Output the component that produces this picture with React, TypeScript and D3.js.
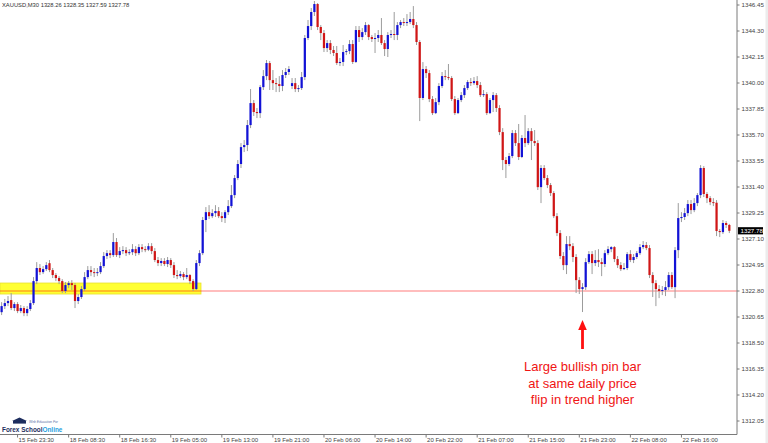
import React from 'react';
import { scaleBand, scaleLinear, range } from 'd3';

// XAUUSD M30 bars
const opens = [
  1321.05, 1321.55, 1321.80, 1322.05, 1321.39, 1321.72, 1321.14, 1321.39, 1320.97, 1321.31,
  1321.80, 1323.62, 1324.70, 1324.36, 1324.61, 1325.10, 1324.53, 1324.12, 1323.87, 1323.62,
  1322.80, 1323.29, 1323.45, 1323.29, 1321.97, 1322.30, 1322.96, 1323.95, 1324.53, 1324.36,
  1324.28, 1324.36, 1324.86, 1325.69, 1325.93, 1325.77, 1326.85, 1325.77, 1326.10, 1326.18,
  1325.93, 1326.01, 1326.26, 1325.93, 1326.43, 1326.26, 1326.22, 1326.51, 1326.10, 1325.36,
  1325.11, 1325.28, 1325.03, 1325.36, 1324.94, 1324.12, 1324.03, 1324.20, 1323.95, 1324.12,
  1323.62, 1322.96, 1325.11, 1325.93, 1328.67, 1329.32, 1328.99, 1329.24, 1329.41, 1328.99,
  1328.83, 1329.32, 1329.82, 1330.73, 1332.14, 1333.30, 1334.70, 1334.87, 1336.52, 1338.34,
  1337.60, 1337.51, 1339.66, 1340.57, 1341.65, 1340.24, 1339.99, 1339.91, 1339.75, 1340.66,
  1340.91, 1339.75, 1339.99, 1339.50, 1339.58, 1340.49, 1343.72, 1344.71, 1345.87, 1346.53,
  1344.63, 1344.13, 1342.89, 1343.30, 1342.73, 1342.48, 1341.65, 1341.74, 1342.56, 1342.64,
  1343.22, 1341.74, 1344.38, 1343.80, 1344.21, 1344.79, 1343.80, 1343.64, 1343.72, 1343.97,
  1343.30, 1342.81, 1343.97, 1344.05, 1343.97, 1344.79, 1345.04, 1344.96, 1345.04, 1345.29,
  1344.79, 1343.39, 1338.76, 1341.15, 1340.82, 1338.67, 1337.51, 1338.42, 1339.75, 1340.57,
  1340.49, 1340.41, 1338.67, 1337.51, 1338.59, 1339.00, 1339.58, 1340.08, 1339.99, 1340.16,
  1339.83, 1339.00, 1339.08, 1337.51, 1338.59, 1339.00, 1337.93, 1335.94, 1333.63, 1333.30,
  1333.96, 1335.86, 1335.03, 1333.88, 1335.45, 1335.03, 1336.02, 1335.20, 1335.03, 1331.39,
  1332.97, 1332.14, 1331.56, 1330.90, 1328.99, 1327.59, 1325.69, 1324.94, 1326.68, 1326.51,
  1325.61, 1323.70, 1322.96, 1323.12, 1325.19, 1325.85, 1325.11, 1325.36, 1325.19, 1325.03,
  1325.93, 1326.26, 1326.43, 1325.44, 1324.94, 1324.61, 1324.70, 1325.85, 1325.36, 1325.61,
  1325.93, 1326.43, 1326.60, 1326.35, 1324.12, 1323.45, 1322.96, 1322.80, 1322.88, 1323.12,
  1324.12, 1323.12, 1326.18, 1328.83, 1328.92, 1329.24, 1329.99, 1329.49, 1330.07, 1330.73,
  1332.97, 1330.82, 1330.48, 1330.15, 1330.10, 1327.76, 1327.67, 1328.42, 1328.26,
];
const highs = [
  1321.88, 1322.14, 1322.38, 1322.63, 1321.88, 1321.88, 1321.64, 1321.55, 1321.55, 1322.05,
  1323.95, 1325.19, 1325.03, 1324.86, 1325.19, 1325.36, 1324.70, 1324.28, 1324.03, 1323.78,
  1323.54, 1323.62, 1323.70, 1323.45, 1322.55, 1323.21, 1324.36, 1324.86, 1324.86, 1324.70,
  1324.70, 1325.19, 1326.02, 1326.18, 1326.18, 1327.59, 1327.18, 1326.43, 1326.51, 1326.43,
  1326.26, 1326.68, 1326.51, 1326.68, 1326.68, 1326.51, 1326.76, 1326.76, 1326.35, 1325.61,
  1325.52, 1325.52, 1325.61, 1325.52, 1325.19, 1324.53, 1324.45, 1324.36, 1324.70, 1324.20,
  1323.78, 1325.36, 1326.18, 1328.92, 1329.74, 1329.90, 1329.57, 1329.90, 1329.74, 1329.32,
  1329.49, 1330.32, 1331.56, 1332.39, 1333.63, 1335.03, 1335.28, 1336.94, 1339.50, 1338.59,
  1337.93, 1339.83, 1341.07, 1341.90, 1341.82, 1341.07, 1340.41, 1340.57, 1341.07, 1341.24,
  1341.40, 1340.41, 1340.41, 1339.83, 1340.91, 1343.97, 1345.21, 1346.20, 1346.78, 1346.61,
  1344.79, 1344.38, 1343.55, 1343.55, 1343.06, 1343.06, 1342.07, 1343.14, 1342.81, 1343.55,
  1343.55, 1344.71, 1344.71, 1344.54, 1345.04, 1344.87, 1343.97, 1344.13, 1344.38, 1345.37,
  1343.55, 1344.21, 1344.38, 1345.87, 1345.04, 1345.21, 1345.37, 1345.70, 1345.87, 1346.36,
  1345.04, 1343.55, 1341.73, 1341.40, 1341.07, 1338.92, 1338.76, 1339.99, 1340.91, 1341.07,
  1341.57, 1340.57, 1338.92, 1338.76, 1339.25, 1339.83, 1340.24, 1340.41, 1340.49, 1340.57,
  1340.08, 1339.42, 1339.25, 1338.76, 1339.25, 1339.17, 1338.17, 1336.27, 1333.88, 1334.21,
  1336.11, 1336.11, 1336.61, 1335.69, 1337.35, 1336.27, 1336.27, 1336.11, 1335.28, 1333.21,
  1333.21, 1332.39, 1331.73, 1331.06, 1329.24, 1327.84, 1326.02, 1327.34, 1327.34, 1326.76,
  1325.85, 1323.95, 1323.45, 1325.52, 1326.10, 1326.10, 1326.18, 1326.26, 1325.52, 1326.18,
  1326.51, 1326.51, 1326.51, 1325.69, 1325.19, 1325.11, 1326.02, 1326.18, 1325.85, 1326.10,
  1326.68, 1326.93, 1326.85, 1326.60, 1324.36, 1323.70, 1323.29, 1323.21, 1323.62, 1324.36,
  1324.36, 1326.43, 1330.07, 1329.32, 1329.66, 1330.32, 1330.32, 1330.48, 1330.90, 1333.21,
  1333.13, 1330.98, 1330.65, 1330.48, 1330.32, 1327.92, 1328.67, 1328.58, 1328.35,
];
const lows = [
  1320.81, 1321.31, 1321.55, 1321.22, 1321.14, 1320.97, 1320.97, 1320.72, 1320.72, 1321.14,
  1321.64, 1323.37, 1324.12, 1324.20, 1324.45, 1324.36, 1323.87, 1323.62, 1323.37, 1322.63,
  1322.63, 1323.04, 1322.88, 1321.39, 1321.72, 1322.14, 1322.80, 1323.78, 1324.03, 1323.95,
  1324.03, 1324.20, 1324.70, 1325.44, 1325.52, 1325.61, 1325.61, 1325.52, 1325.85, 1325.69,
  1325.77, 1325.77, 1325.69, 1325.77, 1326.01, 1326.01, 1326.10, 1325.85, 1325.19, 1324.86,
  1324.86, 1324.86, 1324.78, 1324.70, 1323.87, 1323.78, 1323.87, 1323.70, 1323.78, 1323.37,
  1322.80, 1322.88, 1324.86, 1325.77, 1327.67, 1328.75, 1328.83, 1328.92, 1328.83, 1328.50,
  1328.42, 1329.08, 1329.66, 1330.48, 1331.97, 1332.97, 1334.29, 1334.37, 1336.27, 1337.27,
  1337.10, 1337.10, 1339.42, 1340.24, 1339.42, 1339.42, 1339.25, 1339.25, 1339.33, 1340.41,
  1340.66, 1339.50, 1339.25, 1339.25, 1339.42, 1340.24, 1343.55, 1344.38, 1345.54, 1344.38,
  1343.55, 1342.56, 1342.56, 1342.39, 1342.23, 1341.49, 1341.40, 1341.40, 1342.31, 1342.39,
  1341.57, 1341.65, 1343.39, 1343.55, 1343.97, 1343.55, 1343.39, 1342.48, 1343.39, 1343.14,
  1342.23, 1342.15, 1343.72, 1343.55, 1343.55, 1344.54, 1344.71, 1344.71, 1344.87, 1344.54,
  1343.14, 1336.85, 1338.59, 1340.41, 1338.42, 1337.35, 1337.43, 1338.17, 1339.58, 1340.24,
  1340.24, 1338.51, 1337.35, 1337.43, 1338.42, 1338.76, 1339.42, 1339.75, 1339.83, 1339.58,
  1338.84, 1338.84, 1337.35, 1337.43, 1337.60, 1337.60, 1335.69, 1332.80, 1332.14, 1333.13,
  1333.79, 1334.79, 1333.63, 1333.79, 1334.70, 1334.87, 1333.63, 1334.79, 1331.15, 1330.07,
  1331.97, 1331.31, 1330.65, 1328.83, 1327.34, 1325.44, 1324.53, 1324.20, 1326.18, 1325.19,
  1322.63, 1322.55, 1321.06, 1322.88, 1325.03, 1324.20, 1324.86, 1324.78, 1324.03, 1324.78,
  1325.77, 1326.01, 1325.19, 1324.70, 1324.45, 1324.53, 1324.53, 1325.19, 1325.11, 1325.44,
  1325.77, 1326.26, 1326.18, 1323.87, 1322.30, 1321.55, 1322.21, 1322.46, 1322.38, 1322.88,
  1322.96, 1322.21, 1325.52, 1328.50, 1328.67, 1328.99, 1329.16, 1329.32, 1329.82, 1330.48,
  1330.57, 1330.07, 1329.90, 1329.82, 1327.34, 1327.26, 1327.51, 1328.01, 1327.59,
];
const closes = [
  1321.55, 1321.80, 1321.97, 1321.39, 1321.72, 1321.14, 1321.39, 1320.97, 1321.31, 1321.80,
  1323.62, 1324.70, 1324.36, 1324.61, 1324.94, 1324.53, 1324.12, 1323.87, 1323.62, 1322.80,
  1323.29, 1323.45, 1323.29, 1321.97, 1322.30, 1322.96, 1323.95, 1324.53, 1324.36, 1324.28,
  1324.36, 1324.86, 1325.69, 1325.93, 1325.77, 1326.85, 1325.77, 1326.10, 1326.18, 1325.93,
  1326.01, 1326.26, 1325.93, 1326.43, 1326.26, 1326.22, 1326.51, 1326.10, 1325.36, 1325.11,
  1325.28, 1325.03, 1325.36, 1324.94, 1324.12, 1324.03, 1324.20, 1323.95, 1324.12, 1323.62,
  1322.96, 1325.11, 1325.93, 1328.67, 1329.32, 1328.99, 1329.24, 1329.41, 1328.99, 1328.83,
  1329.32, 1329.82, 1330.73, 1332.14, 1333.30, 1334.70, 1334.87, 1336.52, 1338.34, 1337.60,
  1337.51, 1339.66, 1340.57, 1341.65, 1340.24, 1339.99, 1339.91, 1339.75, 1340.66, 1340.91,
  1341.15, 1339.99, 1339.50, 1339.58, 1340.49, 1343.72, 1344.71, 1345.87, 1346.53, 1344.63,
  1344.13, 1342.89, 1343.30, 1342.73, 1342.48, 1341.65, 1341.74, 1342.56, 1342.64, 1343.22,
  1341.74, 1344.38, 1343.80, 1344.21, 1344.79, 1343.80, 1343.64, 1343.72, 1343.97, 1343.30,
  1342.81, 1343.97, 1344.05, 1343.97, 1344.79, 1345.04, 1344.96, 1345.04, 1345.29, 1344.79,
  1343.39, 1338.76, 1341.15, 1340.82, 1338.67, 1337.51, 1338.42, 1339.75, 1340.57, 1340.49,
  1340.41, 1338.67, 1337.51, 1338.59, 1339.00, 1339.58, 1340.08, 1339.99, 1340.16, 1339.83,
  1339.00, 1339.08, 1337.51, 1338.59, 1339.00, 1337.93, 1335.94, 1333.63, 1333.30, 1333.96,
  1335.86, 1335.03, 1333.88, 1335.45, 1335.03, 1336.02, 1335.20, 1335.03, 1331.39, 1332.97,
  1332.14, 1331.56, 1330.90, 1328.99, 1327.59, 1325.69, 1324.94, 1326.68, 1326.51, 1325.61,
  1323.70, 1322.96, 1323.12, 1325.19, 1325.85, 1325.11, 1325.36, 1325.19, 1325.03, 1325.93,
  1326.26, 1326.43, 1325.44, 1324.94, 1324.61, 1324.70, 1325.85, 1325.36, 1325.61, 1325.93,
  1326.43, 1326.60, 1326.35, 1324.12, 1323.45, 1322.96, 1322.80, 1322.88, 1323.12, 1324.12,
  1323.12, 1326.18, 1328.83, 1328.92, 1329.24, 1329.99, 1329.49, 1330.07, 1330.73, 1332.97,
  1330.82, 1330.48, 1330.15, 1330.10, 1327.76, 1327.67, 1328.42, 1328.26, 1327.78,
];

const priceTicks = [
  '1312.05', '1314.20', '1316.35', '1318.50', '1320.65', '1322.80', '1324.95', '1327.10',
  '1329.25', '1331.40', '1333.55', '1335.70', '1337.85', '1340.00', '1342.15', '1344.30', '1346.45',
];
const timeLabels = [
  '15 Feb 23:30', '18 Feb 08:30', '18 Feb 16:30', '19 Feb 05:00', '19 Feb 13:00', '19 Feb 21:00',
  '20 Feb 06:00', '20 Feb 14:00', '20 Feb 22:00', '21 Feb 07:00', '21 Feb 15:00', '21 Feb 23:00',
  '22 Feb 08:00', '22 Feb 16:00',
];
const timeLabelBars = [5, 21, 37, 53, 69, 85, 101, 117, 133, 149, 165, 181, 197, 213];

const header = 'XAUUSD,M30 1328.26 1328.35 1327.59 1327.78';
const lastPrice = 1327.78;
const flipLevel = 1322.8;
const zoneTop = 1323.46;
const zoneBottom = 1322.55;
const zoneEndBar = 62;
const pinBar = 182;
const note = ['Large bullish pin bar', 'at same daily price', 'flip in trend higher'];

const W = 768;
const H = 443;
const plotRight = 737;
const plotBottom = 434.5;
const font = '"Liberation Sans", Arial, sans-serif';

export default function App() {
  const n = closes.length;
  const x = scaleBand<number>().domain(range(n)).range([0.5, 0.5 + n * 3.1875]).paddingInner(0.3);
  const y = scaleLinear().domain([1312.05, 1346.45]).range([421, 5]);
  const bw = x.bandwidth();
  const cx = (i: number) => (x(i) as number) + bw / 2;

  const pinX = cx(pinBar);
  const lastY = y(lastPrice);

  return (
    <div style={{ position: 'fixed', left: 0, top: 0 }}>
      <svg width={W} height={H} style={{ display: 'block', background: '#fff' }}>
        {/* support zone */}
        <rect
          x={0}
          y={y(zoneTop)}
          width={cx(zoneEndBar) + 1.5}
          height={y(zoneBottom) - y(zoneTop)}
          fill='#ffff33'
          stroke='#e8e030'
          strokeWidth={0.8}
        />
        {/* flip level */}
        <line
          x1={0}
          x2={plotRight}
          y1={y(flipLevel)}
          y2={y(flipLevel)}
          stroke='#ff0000'
          strokeOpacity={0.35}
          strokeWidth={1.6}
        />

        {/* candles */}
        {closes.map((c, i) => {
          const o = opens[i];
          const bull = c >= o;
          const top = y(Math.max(o, c));
          const h = Math.max(1, Math.abs(y(o) - y(c)));
          return (
            <g key={i}>
              <line x1={cx(i)} x2={cx(i)} y1={y(highs[i])} y2={y(lows[i])} stroke='#9c9c9c' strokeWidth={1} />
              <rect x={x(i)} y={top} width={bw} height={h} fill={bull ? '#1212d6' : '#d01616'} />
            </g>
          );
        })}

        {/* frame */}
        <line x1={plotRight} x2={plotRight} y1={0} y2={plotBottom} stroke='#7a7a7a' strokeWidth={1} />
        <line x1={0} x2={plotRight} y1={plotBottom} y2={plotBottom} stroke='#7a7a7a' strokeWidth={1} />

        {/* price axis */}
        {priceTicks.map((t) => (
          <g key={t}>
            <line x1={plotRight} x2={plotRight + 2.5} y1={y(+t)} y2={y(+t)} stroke='#7a7a7a' />
            <text x={plotRight + 4.5} y={y(+t)} dy='0.35em' fontSize={6.2} fontFamily={font} fill='#444'>
              {t}
            </text>
          </g>
        ))}
        <rect x={plotRight + 1} y={lastY - 3.6} width={25} height={7.2} fill='#000' />
        <text x={plotRight + 3.5} y={lastY} dy='0.35em' fontSize={6.2} fontFamily={font} fill='#fff'>
          {lastPrice.toFixed(2)}
        </text>

        {/* time axis */}
        {timeLabels.map((t, k) => {
          const tx = cx(timeLabelBars[k]);
          return (
            <g key={t}>
              <line x1={tx} x2={tx} y1={plotBottom} y2={plotBottom + 3} stroke='#7a7a7a' />
              <text x={tx + 1} y={442} fontSize={6} fontFamily={font} fill='#444'>
                {t}
              </text>
            </g>
          );
        })}

        <text x={2} y={7} fontSize={5.8} fontFamily={font} fill='#333'>
          {header}
        </text>

        {/* annotation */}
        <polygon
          points={`${pinX},320 ${pinX - 4.3},330 ${pinX + 4.3},330`}
          fill='#ff1010'
        />
        <rect x={pinX - 1.4} y={329} width={2.8} height={20} fill='#ff1010' />
        {note.map((line, k) => (
          <text
            key={line}
            x={pinX}
            y={371 + k * 16.5}
            textAnchor='middle'
            fontSize={13}
            fontFamily={font}
            fill='#f01414'
          >
            {line}
          </text>
        ))}

        {/* logo */}
        <g fill='#1d2d5e'>
          <polygon points='12,421 19.5,417.5 27,421' />
          <rect x={13} y={421} width={13} height={2.6} />
        </g>
        <text x={29} y={422.5} fontSize={3.4} fontFamily={font} fontStyle='italic' fill='#5a73a8'>
          Web Education For
        </text>
        <text x={2} y={432} fontSize={6.4} fontFamily={font} fontWeight='bold' fill='#1d2d5e'>
          Forex School<tspan fill='#25a0de'>Online</tspan>
        </text>

        <rect x={765.5} y={0} width={2.5} height={H} fill='#ececec' />
      </svg>
    </div>
  );
}
